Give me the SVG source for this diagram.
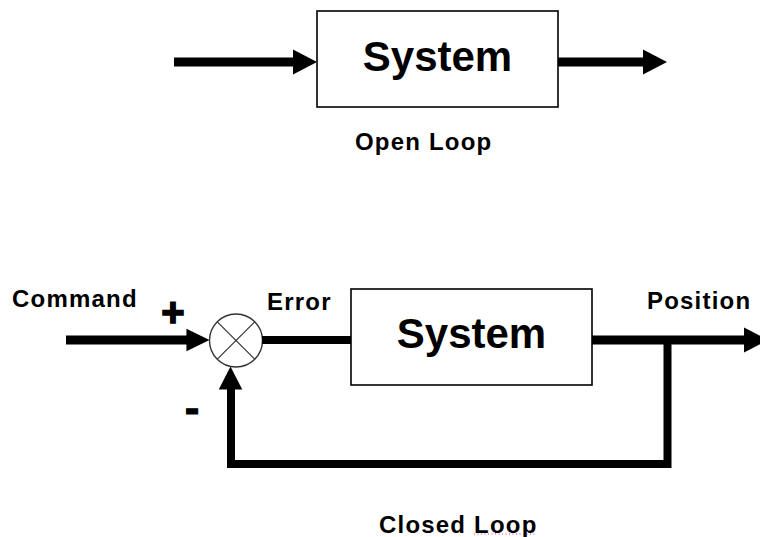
<svg xmlns="http://www.w3.org/2000/svg" width="760" height="537" viewBox="0 0 760 537">
  <style>
    .block { fill: #ffffff; stroke: #000000; stroke-width: 1.6; }
    .title { font-family: "Liberation Sans", Arial, sans-serif; font-weight: bold; font-size: 42px; fill: #000000; text-anchor: middle; }
    .label { font-family: "Liberation Sans", Arial, sans-serif; font-weight: bold; font-size: 24px; letter-spacing: 1.2px; fill: #000000; }
    .sign { font-family: "Liberation Sans", Arial, sans-serif; font-weight: bold; fill: #000000; stroke: #000000; text-anchor: middle; }
    .wire { fill: none; stroke: #000000; stroke-width: 9; stroke-linecap: butt; stroke-linejoin: miter; }
    .thin { stroke-width: 8; }
    .head { fill: #000000; }
    .junction { fill: #ffffff; stroke: #333333; stroke-width: 1.4; }
    .cross { stroke: #333333; stroke-width: 1.2; }
  </style>
  <defs>
    <!-- arrowhead with its tip at the origin, pointing along +x -->
    <path id="ah" d="M-24,-12.5 L0,0 L-24,12.5 Z"/>
  </defs>

  <!-- open loop -->
  <g id="open-system">
    <rect class="block" x="317" y="11" width="241" height="96"/>
    <text class="title" x="437.5" y="71">System</text>
  </g>
  <text id="open-loop-caption" class="label" x="355" y="150">Open Loop</text>

  <!-- closed loop -->
  <g id="summing-junction">
    <circle class="junction" cx="236" cy="340.5" r="26.5"/>
    <line class="cross" x1="217.3" y1="321.8" x2="254.7" y2="359.2"/>
    <line class="cross" x1="254.7" y1="321.8" x2="217.3" y2="359.2"/>
  </g>
  <g id="closed-system">
    <rect class="block" x="351" y="289" width="241" height="96"/>
    <text class="title" x="471.5" y="348">System</text>
  </g>

  <g id="connectors">
    <!-- open loop input and output -->
    <line class="wire" x1="174" y1="62" x2="296" y2="62"/>
    <use href="#ah" class="head" transform="translate(317,62)"/>
    <line class="wire" x1="558" y1="62" x2="646" y2="62"/>
    <use href="#ah" class="head" transform="translate(667,62)"/>

    <!-- command into junction -->
    <line class="wire" x1="66" y1="340" x2="189" y2="340"/>
    <use href="#ah" class="head" transform="translate(209.5,340) scale(0.96,0.9)"/>
    <!-- error into system -->
    <line class="wire thin" x1="262" y1="340" x2="351" y2="340"/>
    <!-- position output -->
    <line class="wire" x1="592" y1="340" x2="748" y2="340"/>
    <use href="#ah" class="head" transform="translate(768,340)"/>
    <!-- feedback path -->
    <path class="wire thin" d="M667.5,336 V464 H231 V386"/>
    <use href="#ah" class="head" transform="translate(230.5,366.5) rotate(-90) scale(0.96,0.94)"/>
  </g>

  <g id="labels">
    <text class="label" x="12" y="306.5">Command</text>
    <text class="sign" x="173" y="325.5" font-size="40" stroke-width="1.5">+</text>
    <text class="sign" x="192" y="423" font-size="44" stroke-width="1">-</text>
    <text class="label" x="267" y="310">Error</text>
    <text class="label" x="647" y="309">Position</text>
    <text class="label" x="379" y="533">Closed Loop</text>
    <!-- dotted underline beneath "Loop" -->
    <line x1="474" y1="534" x2="535" y2="534" stroke="#cc33cc" stroke-width="1" stroke-dasharray="1 2.5"/>
  </g>
</svg>
